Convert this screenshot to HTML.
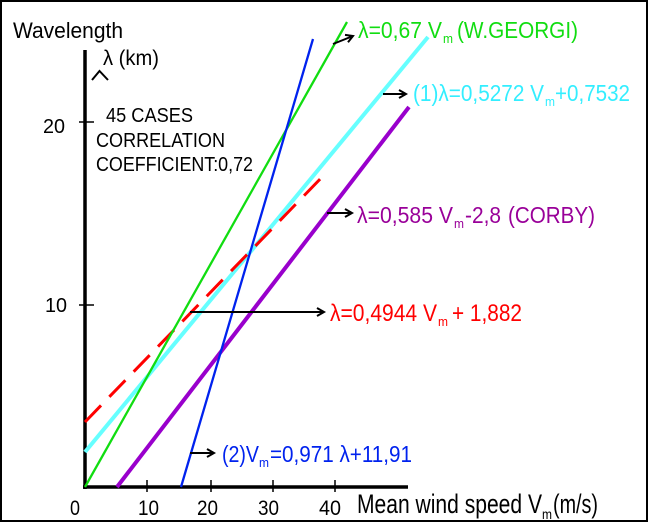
<!DOCTYPE html>
<html>
<head>
<meta charset="utf-8">
<style>
  html, body { margin: 0; padding: 0; background: #fff; }
  svg { display: block; }
  text { font-family: "Liberation Sans", Arial, sans-serif; }
</style>
</head>
<body>
<svg width="650" height="524" viewBox="0 0 650 524" xmlns="http://www.w3.org/2000/svg">
  <rect x="0" y="0" width="650" height="524" fill="#fff"/>
  <rect x="1" y="1" width="646" height="520" fill="none" stroke="#000" stroke-width="2"/>

  <!-- Axes -->
  <line x1="85" y1="50" x2="85" y2="489" stroke="#000" stroke-width="3.5"/>
  <line x1="83" y1="487" x2="408" y2="487" stroke="#000" stroke-width="3.5"/>

  <!-- caret at top of y axis -->
  <polyline points="92,80 99.5,71 108,80" fill="none" stroke="#000" stroke-width="2"/>

  <!-- y ticks -->
  <line x1="79" y1="122" x2="94" y2="122" stroke="#000" stroke-width="1.5"/>
  <line x1="79" y1="305" x2="94" y2="305" stroke="#000" stroke-width="1.5"/>
  <!-- x ticks -->
  <line x1="147" y1="480" x2="147" y2="492" stroke="#000" stroke-width="1.5"/>
  <line x1="211" y1="480" x2="211" y2="492" stroke="#000" stroke-width="1.5"/>
  <line x1="273" y1="480" x2="273" y2="492" stroke="#000" stroke-width="1.5"/>
  <line x1="335" y1="480" x2="335" y2="492" stroke="#000" stroke-width="1.5"/>

  <!-- tick labels -->
  <text x="43" y="133" font-size="20" textLength="22" lengthAdjust="spacingAndGlyphs" fill="#000">20</text>
  <text x="45" y="312" font-size="20" textLength="22" lengthAdjust="spacingAndGlyphs" fill="#000">10</text>
  <text x="70" y="515" font-size="21" textLength="10" lengthAdjust="spacingAndGlyphs" fill="#000">0</text>
  <text x="138" y="515" font-size="21" textLength="21" lengthAdjust="spacingAndGlyphs" fill="#000">10</text>
  <text x="197" y="515" font-size="21" textLength="21" lengthAdjust="spacingAndGlyphs" fill="#000">20</text>
  <text x="258" y="515" font-size="21" textLength="21" lengthAdjust="spacingAndGlyphs" fill="#000">30</text>
  <text x="319" y="515" font-size="21" textLength="22" lengthAdjust="spacingAndGlyphs" fill="#000">40</text>

  <!-- axis titles -->
  <text x="13" y="38" font-size="22" textLength="110" lengthAdjust="spacingAndGlyphs" fill="#000">Wavelength</text>
  <text x="103" y="65" font-size="21" textLength="56" lengthAdjust="spacingAndGlyphs" fill="#000">λ (km)</text>
  <text x="357" y="513" font-size="27" textLength="185" lengthAdjust="spacingAndGlyphs" fill="#000">Mean wind speed V</text>
  <text x="542" y="519" font-size="14" textLength="10" lengthAdjust="spacingAndGlyphs" fill="#000">m</text>
  <text x="553" y="513" font-size="27" textLength="45" lengthAdjust="spacingAndGlyphs" fill="#000">(m/s)</text>

  <!-- info text -->
  <text x="106" y="122" font-size="20" textLength="87" lengthAdjust="spacingAndGlyphs" fill="#000">45 CASES</text>
  <text x="96" y="147" font-size="20" textLength="129" lengthAdjust="spacingAndGlyphs" fill="#000">CORRELATION</text>
  <text x="96" y="171" font-size="20" textLength="157" lengthAdjust="spacingAndGlyphs" fill="#000">COEFFICIENT:0,72</text>

  <!-- Series lines -->
  <line x1="85" y1="452" x2="428" y2="37" stroke="#66ffff" stroke-width="4"/>
  <line x1="85" y1="422" x2="325" y2="174" stroke="#ff0000" stroke-width="3" stroke-dasharray="23 12"/>
  <line x1="117" y1="487" x2="409" y2="107" stroke="#9900cc" stroke-width="4"/>
  <line x1="85" y1="487" x2="347" y2="22" stroke="#11dd11" stroke-width="2.3"/>
  <line x1="181" y1="487" x2="313" y2="39" stroke="#0022ee" stroke-width="2.3"/>

  <!-- Arrows -->
  <g stroke="#000" stroke-width="2" fill="none">
    <line x1="333" y1="44" x2="353" y2="36"/>
    <path d="M345,34.9 L353,36 L348,42.3"/>
    <line x1="383" y1="94" x2="406" y2="94"/>
    <path d="M399,90 L406,94 L399,98"/>
    <line x1="327" y1="213" x2="352" y2="213"/>
    <path d="M345,209 L352,213 L345,217"/>
    <line x1="190" y1="312" x2="324" y2="312"/>
    <path d="M317,308 L324,312 L317,316"/>
    <line x1="190" y1="453" x2="214" y2="453"/>
    <path d="M207,449 L214,453 L207,457"/>
  </g>

  <!-- Green label -->
  <g fill="#11dd11">
    <text x="358" y="38" font-size="23" textLength="84" lengthAdjust="spacingAndGlyphs">λ=0,67 V</text>
    <text x="443" y="43" font-size="13" textLength="10" lengthAdjust="spacingAndGlyphs">m</text>
    <text x="457" y="38" font-size="23" textLength="121" lengthAdjust="spacingAndGlyphs">(W.GEORGI)</text>
  </g>

  <!-- Cyan label -->
  <g fill="#33eeff">
    <text x="413" y="101" font-size="23" textLength="131" lengthAdjust="spacingAndGlyphs">(1)λ=0,5272 V</text>
    <text x="545" y="106" font-size="13" textLength="10" lengthAdjust="spacingAndGlyphs">m</text>
    <text x="555" y="101" font-size="23" textLength="75" lengthAdjust="spacingAndGlyphs">+0,7532</text>
  </g>

  <!-- Purple label -->
  <g fill="#990099">
    <text x="357" y="223" font-size="23" textLength="96" lengthAdjust="spacingAndGlyphs">λ=0,585 V</text>
    <text x="454" y="228" font-size="13" textLength="10" lengthAdjust="spacingAndGlyphs">m</text>
    <text x="465" y="223" font-size="23" textLength="36" lengthAdjust="spacingAndGlyphs">-2,8</text>
    <text x="508" y="223" font-size="23" textLength="87" lengthAdjust="spacingAndGlyphs">(CORBY)</text>
  </g>

  <!-- Red label -->
  <g fill="#ff0000">
    <text x="330" y="321" font-size="24" textLength="107" lengthAdjust="spacingAndGlyphs">λ=0,4944 V</text>
    <text x="438" y="326" font-size="13" textLength="10" lengthAdjust="spacingAndGlyphs">m</text>
    <text x="452" y="321" font-size="24" textLength="70" lengthAdjust="spacingAndGlyphs">+ 1,882</text>
  </g>

  <!-- Blue label -->
  <g fill="#0022ee">
    <text x="222" y="462" font-size="23" textLength="37" lengthAdjust="spacingAndGlyphs">(2)V</text>
    <text x="259" y="467" font-size="13" textLength="10" lengthAdjust="spacingAndGlyphs">m</text>
    <text x="270" y="462" font-size="23" textLength="142" lengthAdjust="spacingAndGlyphs">=0,971 λ+11,91</text>
  </g>
</svg>
</body>
</html>
